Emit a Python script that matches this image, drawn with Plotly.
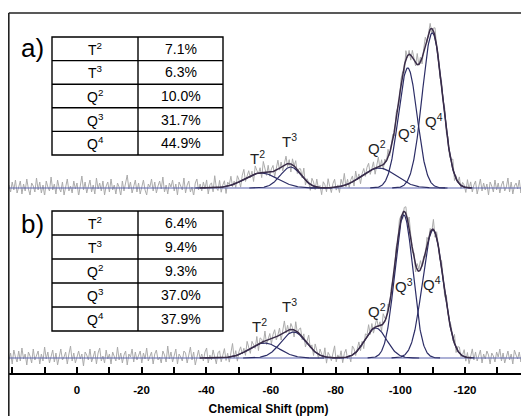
import numpy as np
import plotly.graph_objects as go

# ---------------- data ----------------
species = ["T<sup>2</sup>", "T<sup>3</sup>", "Q<sup>2</sup>", "Q<sup>3</sup>", "Q<sup>4</sup>"]
pct_a = ["7.1%", "6.3%", "10.0%", "31.7%", "44.9%"]
pct_b = ["6.4%", "9.4%", "9.3%", "37.0%", "37.9%"]

# Gaussian fit components (ppm centre, height in a.u., sigma in ppm)
center_a = [-57.0, -66.1, -93.4, -102.3, -109.9]
height_a = [15, 21, 20, 120, 155]
sigma_a = [5.1, 3.2, 5.3, 2.9, 3.1]

center_b = [-58.0, -67.0, -92.4, -101.1, -110.1]
height_b = [15, 26, 30, 143, 128]
sigma_b = [4.6, 3.9, 3.36, 2.8, 3.2]

# residual of the measured spectrum around the fit (a.u.), read roughly
noise_a = [3, -4, 6, -2, 8, -5, 1, 7, -6, 4, -3, 9, -1, -7, 5, 2, -4, 10, -2, 6,
           -5, 3, -8, 7, 1, -3, 11, -2, 4, -6, 8, 0, -4, 6, -7, 3, 9, -3, 2, -5,
           7, -1, 5, -8, 4, 12, -2, 6, -5, 1, 8, -4, 3, -6, 10, -1, 5, -3, 7, -7,
           2, 6, -4, 9, -2, 3, -6, 5, 1, -8, 7, -3, 4, 13, -1, 6, -5, 2, 8, -4,
           5, -6, 3, 8, -2, -7, 4, 1, 9, -3, 6, -5, 2, 7, -1, 11, -4, 3, -6, 5,
           1, 8, -3, 4, -7, 6, 2, -2, 10, -5, 3, 7, -4, 1, -8, 5, 9, -2, 4, -3,
           6, -1, 8, -6, 3, 5, -4, 12, 0, -3, 7, -5, 2, 6, -7, 4, 1, 9, -2, 3,
           -4, 7, 2, -6, 5, 10, -3, 1, 6, -2, 4, -7, 8, 3, -1, 5, -5, 11, 2, -3,
           7, -4, 3, 6, -6, 1, 9, -2, 5, -5, 2, 8, -3, 4, -8, 6, 0, 7, -4, 3,
           5, -2, 10, -5, 3, 1, -6, 7, 4, -3, 8, -1, 2, -7, 6, 3, -4, 9, 1, -5,
           4, 8, -3, 2, -6, 7, 1, 12, -2, 5, -4, 3, 6, -5, 9, -1, 4, -7, 2, 6,
           -3, 5, 8, -4, 1, 7, -6, 3, 10, -2, 6, -5, 4, -1, 8, -3, 2, 5, -6, 7,
           1, -4, 6, 3, -7, 9, -2, 4, -5, 7, 2, -3, 11, -1, 5, -6, 3, 8, -4, 2,
           6, -5, 3, 9, -2, 4, -7, 5, 1, 8, -3, 6, -4, 2, 10, -6, 3, -1, 7, -3,
           4, 2, -5, 8, -1, 6, -4, 3, 7, -6, 1, 9, -3, 5, -2, 4, -7, 6, 2, -4,
           8, -2, 5, -5, 3, 7, -3, 1, 10, -4, 6, -6, 2, 5, -1, 8, -5, 3, 6, -2,
           3, -4]

noise_b = [-2, 5, -6, 8, 1, -4, 7, -3, 10, -1, 4, -7, 6, 2, -5, 9, -2, 3, 7, -6,
           4, -3, 11, -1, 6, -5, 2, 8, -4, 5, -7, 3, 9, -2, 1, 6, -6, 4, 12, -3,
           5, -5, 2, 7, -1, 4, -8, 6, 3, -2, 9, -4, 1, 7, -6, 5, 10, -3, 2, -5,
           8, -1, 4, -6, 6, 2, -3, 11, -2, 5, -5, 3, 7, -7, 4, 1, 9, -4, 6, -2,
           3, 7, -5, 5, -1, 10, -3, 2, 6, -6, 4, 8, -2, 1, -5, 7, 3, -4, 12, -1,
           6, -4, 2, 9, -6, 4, 1, -3, 7, 5, -5, 3, 11, -2, 6, -7, 2, 8, -1, 4,
           -3, 6, 10, -5, 3, -2, 8, 1, -6, 5, 7, -4, 2, 9, -3, 4, -5, 6, 13, -2,
           5, -6, 3, 7, -1, 4, -4, 9, 2, -5, 6, 1, -3, 8, -7, 5, 3, -2, 10, -4,
           2, 6, -5, 4, 8, -3, 1, 7, -6, 3, 11, -2, 5, -4, 6, 2, -7, 9, -1, 4,
           7, -3, 5, -6, 2, 10, -1, 4, -5, 8, 3, -4, 6, 1, -2, 9, -6, 5, 2, -3,
           6, 12, -4, 3, -1, 7, -5, 4, 8, -2, 1, -6, 9, 5, -3, 2, 7, -4, 3, -7,
           5, 1, 9, -3, 6, -5, 2, 8, -1, 4, -6, 10, 3, -2, 7, -4, 5, 1, -5, 6,
           -2, 8, 3, -6, 4, 7, -3, 11, 1, -4, 5, -7, 6, 2, 9, -1, 3, -5, 7, -3,
           4, -2, 10, -5, 6, 1, -4, 7, 3, -6, 8, -1, 2, 5, -3, 9, -5, 4, 6, -2,
           1, 7, -4, 5, -6, 3, 9, -2, 6, -3, 2, 8, -5, 4, -1, 7, 3, -6, 5, 2,
           -4, 6, 1, 9, -3, 5, -5, 2, 7, -2, 4, -6, 8, 3, -1, 6, -4, 2, 9, -3,
           5, -1]

tick_vals = [20, 10, 0, -10, -20, -30, -40, -50, -60, -70, -80, -90, -100, -110, -120, -130]
tick_text = ["", "", "0", "", "-20", "", "-40", "", "-60", "", "-80", "", "-100", "", "-120", ""]

# ---------------- styling / layout constants ----------------
FONT = "Liberation Sans, Arial, Helvetica, sans-serif"
GRAY = "#ababab"
BASE = "#5a62ad"
COMP = "#2c2d66"
TOTAL = "#3a2c48"
XMIN, XMAX = 21.3, -139.8
FIT_LO, FIT_HI = -38.0, -122.0

# the page body has an 8 px margin, so the figure starts at page (8, 8)
OFF = 8
W, H = 529 - OFF, 416 - OFF
# plot area in page pixels: x 8..529, y 13..373
PL, PR, PT, PB = 8, 529, 13, 373
ML, MR, MT, MB = PL - OFF, 529 - PR, PT - OFF, 416 - PB
PW, PH = PR - PL, PB - PT


def px(x):
    """page x pixel -> paper x"""
    return (x - PL) / PW


def py(y):
    """page y pixel -> paper y"""
    return (PB - y) / PH


def gauss(x, c, h, s):
    return h * np.exp(-0.5 * ((x - c) / s) ** 2)


fig = go.Figure()

panels = [
    ("y", center_a, height_a, sigma_a, noise_a),
    ("y2", center_b, height_b, sigma_b, noise_b),
]

for yax, cen, hei, sig, noi in panels:
    grid = np.linspace(21.0, -139.8, len(noi))
    fit_on_grid = sum(gauss(grid, c, h, s) for c, h, s in zip(cen, hei, sig))
    spectrum = fit_on_grid + np.array(noi, dtype=float)
    fig.add_trace(go.Scatter(x=grid, y=spectrum, yaxis=yax, mode="lines",
                             line=dict(color=GRAY, width=1), hoverinfo="skip"))
    fig.add_trace(go.Scatter(x=[XMIN, XMAX], y=[0, 0], yaxis=yax, mode="lines",
                             line=dict(color=BASE, width=1.2), hoverinfo="skip"))
    for c, h, s in zip(cen, hei, sig):
        xs = np.linspace(c + 4 * s, c - 4 * s, 200)
        fig.add_trace(go.Scatter(x=xs, y=gauss(xs, c, h, s), yaxis=yax, mode="lines",
                                 line=dict(color=COMP, width=1.2), hoverinfo="skip"))
    xf = np.linspace(FIT_LO, FIT_HI, 500)
    tot = sum(gauss(xf, c, h, s) for c, h, s in zip(cen, hei, sig))
    fig.add_trace(go.Scatter(x=xf, y=tot, yaxis=yax, mode="lines",
                             line=dict(color=TOTAL, width=1.5), hoverinfo="skip"))

# split between panels at page pixel row 195
split = py(195)

fig.update_layout(
    width=W, height=H,
    margin=dict(l=ML, r=MR, t=MT, b=MB, pad=0),
    paper_bgcolor="white", plot_bgcolor="white",
    showlegend=False,
    font=dict(family=FONT, color="black"),
    xaxis=dict(range=[XMIN, XMAX], anchor="y2", showgrid=False, zeroline=False,
               showline=True, linecolor="black", linewidth=1.6,
               ticks="inside", ticklen=6, tickwidth=1.5, tickcolor="black",
               tickmode="array", tickvals=tick_vals, ticktext=tick_text,
               ticklabelstandoff=5,
               tickfont=dict(family=FONT, size=11.5, color="black", weight="bold"),
               title=dict(text="Chemical Shift (ppm)",
                          font=dict(family=FONT, size=12, color="black", weight="bold"),
                          standoff=12)),
    yaxis=dict(domain=[split, 1], range=[-7, 175], visible=False),
    yaxis2=dict(domain=[0, split], range=[-15, 163], visible=False),
)

shapes = []
annotations = []

# outer frame (top and left lines)
shapes.append(dict(type="line", xref="paper", yref="paper", x0=px(8.8), x1=1.02,
                   y0=py(13), y1=py(13), line=dict(color="#222", width=1.6)))
shapes.append(dict(type="line", xref="paper", yref="paper", x0=px(8.8), x1=px(8.8),
                   y0=py(13), y1=py(420), line=dict(color="#222", width=1.6)))

# tables
tables = [(pct_a, 37, 155, "a)", 48), (pct_b, 211, 331, "b)", 224)]
tx0, tmid, tx1 = 52, 138, 223
for vals, top, bot, tag, tagy in tables:
    shapes.append(dict(type="rect", xref="paper", yref="paper",
                       x0=px(tx0), x1=px(tx1), y0=py(top), y1=py(bot),
                       line=dict(color="black", width=1.4)))
    shapes.append(dict(type="line", xref="paper", yref="paper",
                       x0=px(tmid), x1=px(tmid), y0=py(top), y1=py(bot),
                       line=dict(color="black", width=1.4)))
    rh = (bot - top) / len(vals)
    for i, (sp, v) in enumerate(zip(species, vals)):
        if i > 0:
            yy = top + i * rh
            shapes.append(dict(type="line", xref="paper", yref="paper",
                               x0=px(tx0), x1=px(tx1), y0=py(yy), y1=py(yy),
                               line=dict(color="black", width=1.4)))
        yc = top + (i + 0.5) * rh
        annotations.append(dict(xref="paper", yref="paper", x=px((tx0 + tmid) / 2), y=py(yc),
                                text=sp, showarrow=False, xanchor="center", yanchor="middle",
                                font=dict(family=FONT, size=14, color="black")))
        annotations.append(dict(xref="paper", yref="paper", x=px((tmid + tx1) / 2), y=py(yc),
                                text=v, showarrow=False, xanchor="center", yanchor="middle",
                                font=dict(family=FONT, size=14, color="black")))
    annotations.append(dict(xref="paper", yref="paper", x=px(32), y=py(tagy), text=tag,
                            showarrow=False, xanchor="center", yanchor="middle",
                            font=dict(family=FONT, size=26, color="black")))

# peak labels (x in ppm, y in a.u. above baseline)
label_pos_a = [(-56.0, 31), (-65.6, 48), (-92.8, 41), (-102.0, 56), (-110.4, 68)]
label_pos_b = [(-56.6, 33), (-65.6, 53), (-92.8, 48), (-101.1, 73), (-109.8, 75)]
for yref, pos in (("y", label_pos_a), ("y2", label_pos_b)):
    for sp, (lx, ly) in zip(species, pos):
        annotations.append(dict(xref="x", yref=yref, x=lx, y=ly, text=sp, showarrow=False,
                                xanchor="center", yanchor="middle",
                                font=dict(family=FONT, size=15, color="#222")))

fig.update_layout(shapes=shapes, annotations=annotations)
fig.write_html("out.html")
